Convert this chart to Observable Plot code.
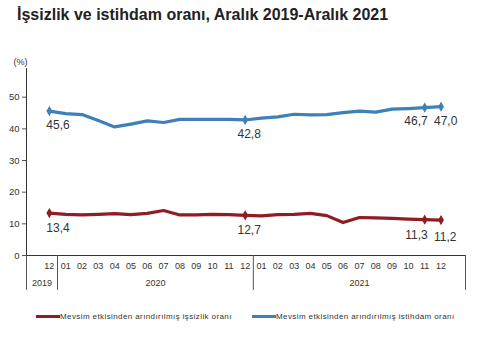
<!DOCTYPE html>
<html>
<head>
<meta charset="utf-8">
<script src="https://cdn.jsdelivr.net/npm/d3@7"></script>
<script src="https://cdn.jsdelivr.net/npm/@observablehq/plot@0.6"></script>
<style>
  body { margin: 0; background: #fff; font-family: "Liberation Sans", Arial, sans-serif; }
  #wrap { width: 483px; height: 350px; position: relative; overflow: hidden; }
  #title { position: absolute; left: 17px; top: 6px; font-size: 16px; font-weight: bold; color: #222; white-space: nowrap; }
  #chart { position: absolute; left: 0; top: 40px; }
  #legend { position: absolute; left: 0; top: 312px; width: 483px; font-size: 8px; color: #333; letter-spacing: 0.4px; white-space: nowrap; }
  .item { position: absolute; top: 0; display: flex; align-items: center; }
  .sw { width: 24px; height: 3px; display: inline-block; }
</style>
</head>
<body>
<div id="wrap">
  <div id="title">İşsizlik ve istihdam oranı, Aralık 2019-Aralık 2021</div>
  <div id="chart"></div>
  <div id="legend">
    <div class="item" style="left:36px"><span class="sw" style="background:#8f1d24"></span><span>Mevsim etkisinden arındırılmış işsizlik oranı</span></div>
    <div class="item" style="left:252px"><span class="sw" style="background:#3f80b8"></span><span>Mevsim etkisinden arındırılmış istihdam oranı</span></div>
  </div>
</div>
<script>
const months = ["12","01","02","03","04","05","06","07","08","09","10","11","12","01","02","03","04","05","06","07","08","09","10","11","12"];
const years = ["2019","2020","2021"];
const unemployment = [13.4,13.0,12.8,13.0,13.2,12.9,13.3,14.2,12.8,12.8,13.0,12.9,12.7,12.5,12.9,13.0,13.3,12.6,10.4,12.0,11.9,11.7,11.5,11.3,11.2];
const employment = [45.6,44.8,44.5,42.6,40.6,41.5,42.5,42.0,43.0,43.0,43.0,43.0,42.8,43.4,43.8,44.6,44.4,44.5,45.1,45.6,45.3,46.2,46.4,46.7,47.0];
const labelIdx = [0,12,23,24];
const yTicks = [0,10,20,30,40,50];

const red = "#8f1d24", blue = "#3f80b8";
const idx = months.map((_, i) => i);
const unemp = idx.map(i => ({i, v: unemployment[i]}));
const emp = idx.map(i => ({i, v: employment[i]}));
const fmt = v => v.toFixed(1).replace(".", ",");
const labDx = {0: -3, 12: 4, 23: 3, 24: -7};
const labAnchor = {0: "start", 12: "middle", 23: "end", 24: "start"};
const labelRows = (data) => labelIdx.map(i => ({i, v: data[i], t: fmt(data[i])}));

const x0 = -1.4, x1 = 25.5;
const yearPos = [-0.45, 6.5, 19];

const uLab = labelRows(unemployment), eLab = labelRows(employment);
const labelMarks = (rows, dyBase) => labelIdx.map((i, k) =>
  Plot.text([rows[k]], {x: "i", y: "v", text: "t", textAnchor: labAnchor[i], dx: labDx[i], dy: dyBase + (i === 24 && rows === uLab ? 2 : 0), fontSize: 12, fill: "#333"})
);

const plot = Plot.plot({
  width: 483,
  height: 260,
  marginLeft: 26,
  marginRight: 18,
  marginTop: 25,
  marginBottom: 45,
  style: {fontFamily: "Liberation Sans, Arial, sans-serif", color: "#333", background: "#fff"},
  x: {type: "linear", domain: [x0, x1]},
  y: {domain: [0, 60]},
  marks: [
    Plot.axisY({ticks: yTicks, tickSize: 4, tickPadding: 3, fontSize: 9.5, label: null, stroke: "#555"}),
    Plot.axisX({ticks: idx, tickFormat: i => months[i], tickSize: 0, tickPadding: 7, fontSize: 9, label: null}),
    Plot.ruleX([x0], {y1: 0, y2: 59, stroke: "#333"}),
    Plot.ruleY([0], {x1: x0, x2: x1, stroke: "#333"}),
    Plot.ruleX([x0, 0.5, 12.5, x1], {y1: 0, y2: -11, stroke: "#555"}),
    Plot.text(years, {x: (d, k) => yearPos[k], y: 0, dy: 28, text: d => d, fontSize: 9, fill: "#333"}),
    Plot.text(["(%)"], {frameAnchor: "top-left", dx: -13, dy: -7, fontSize: 9, fill: "#333", textAnchor: "start"}),
    Plot.line(emp, {x: "i", y: "v", stroke: blue, strokeWidth: 3.2, curve: "linear"}),
    Plot.line(unemp, {x: "i", y: "v", stroke: red, strokeWidth: 3.2, curve: "linear"}),
    Plot.dot(eLab, {x: "i", y: "v", symbol: "diamond", r: 2.2, fill: blue, stroke: blue}),
    Plot.dot(uLab, {x: "i", y: "v", symbol: "diamond", r: 2.2, fill: red, stroke: red}),
    ...labelMarks(eLab, 14),
    ...labelMarks(uLab, 15)
  ]
});
document.getElementById("chart").appendChild(plot);
</script>
</body>
</html>
